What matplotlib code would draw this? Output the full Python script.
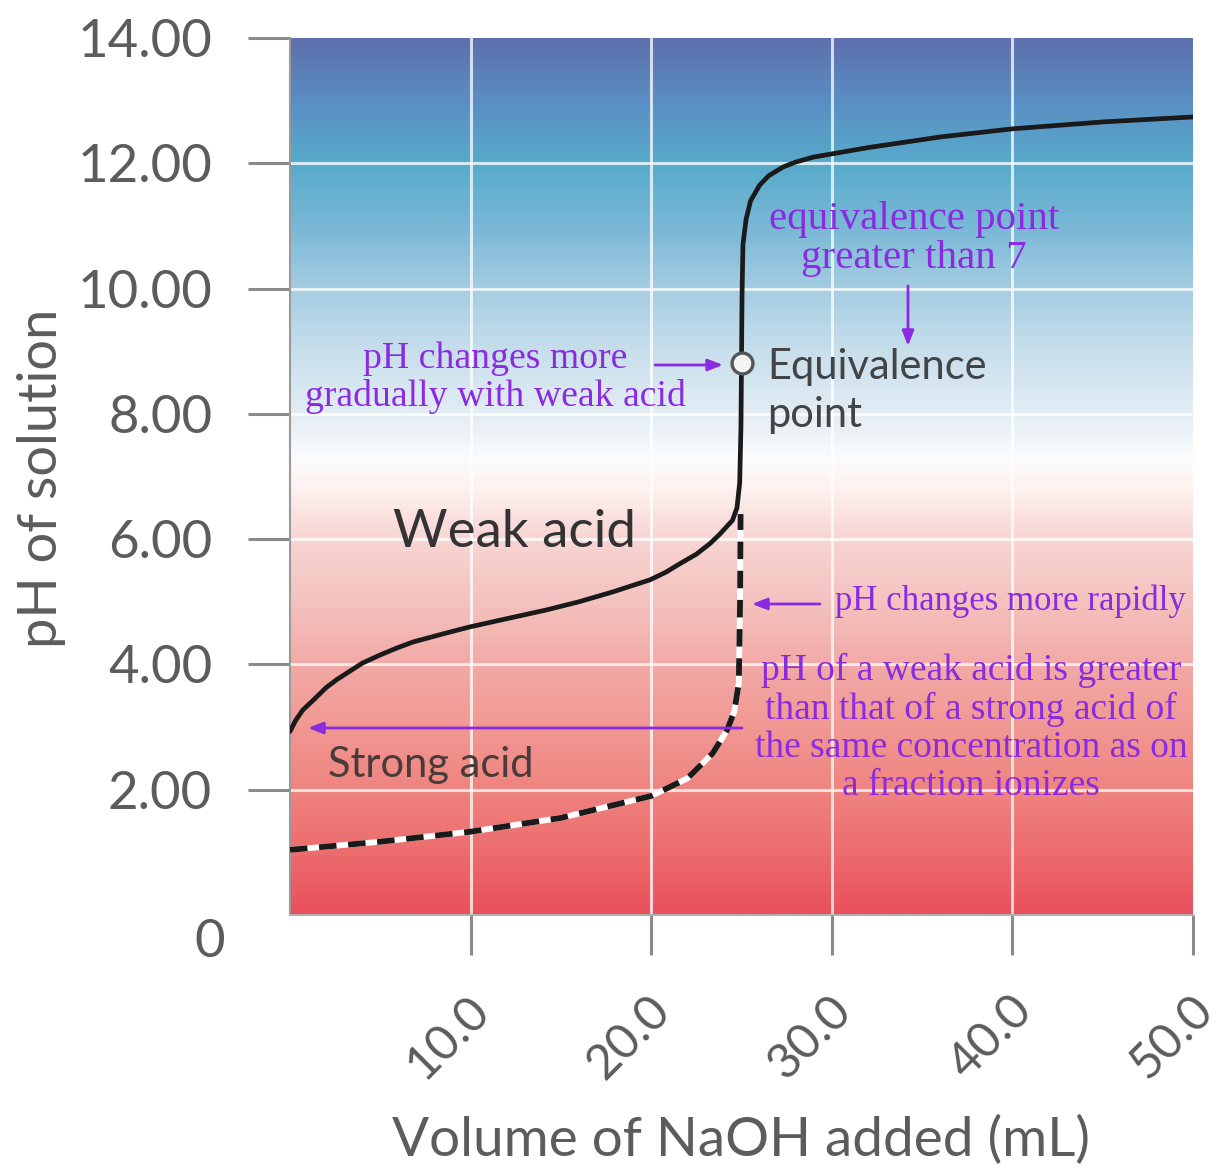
import numpy as np
import matplotlib
matplotlib.use("Agg")
import matplotlib.pyplot as plt
from matplotlib.colors import LinearSegmentedColormap
from matplotlib.transforms import ScaledTranslation

# ---------------- data ----------------
weak_x = [0, 0.3, 0.7, 1.29, 2, 2.6, 3.14, 4, 4.98, 5.9, 6.83, 8.5, 9.97, 12, 14.2, 16,
          17.9, 19.93, 20.8, 21.6, 22.5, 23.26, 23.8, 24.18, 24.5, 24.75, 24.9, 24.97,
          25.0, 25.03, 25.08, 25.25, 25.5, 26, 26.5, 27.3, 28, 29, 32, 36, 40, 45, 50]
weak_ph = [2.93, 3.1, 3.27, 3.43, 3.63, 3.76, 3.86, 4.02, 4.15, 4.26, 4.36, 4.49, 4.6,
           4.73, 4.87, 5.0, 5.16, 5.35, 5.47, 5.61, 5.76, 5.93, 6.08, 6.2, 6.3, 6.5, 6.9,
           7.8, 8.8, 9.9, 10.7, 11.1, 11.4, 11.65, 11.8, 11.94, 12.02, 12.1, 12.25, 12.42,
           12.55, 12.66, 12.74]

strong_x = [0, 5, 10, 15, 20, 22, 23.4, 24.2, 24.6, 24.85, 24.92, 24.95]
strong_ph = [1.04, 1.17, 1.33, 1.55, 1.9, 2.18, 2.58, 2.95, 3.25, 3.7, 5.0, 6.4]

equiv_x, equiv_ph = 25.0, 8.81

x_ticks = [10, 20, 30, 40, 50]
x_ticklabels = ["10.0", "20.0", "30.0", "40.0", "50.0"]
y_ticks = [0, 2, 4, 6, 8, 10, 12, 14]
y_ticklabels = ["0", "2.00", "4.00", "6.00", "8.00", "10.00", "12.00", "14.00"]

bg_stops = [(0.0, "#e9505b"), (1.0, "#ed6d6e"), (2.0, "#ef8480"), (3.0, "#f19893"),
            (4.0, "#f2aaa7"), (5.0, "#f4c2bf"), (6.0, "#f8d5d3"), (6.8, "#fdf1ef"),
            (7.3, "#fbfcfd"), (8.0, "#e3edf4"), (9.0, "#c8dfec"), (10.0, "#a5cde2"),
            (11.0, "#7ab8d6"), (12.0, "#58abcc"), (13.0, "#5a8fc4"), (14.0, "#5e70ad")]

PURPLE = "#8a2be2"
GRAY = "#5c5c5c"

# ---------------- figure ----------------
fig = plt.figure(figsize=(12.27, 11.68), dpi=100)
ax = fig.add_axes([290/1227, 1 - 915/1168, (1193-290)/1227, (915-38)/1168])
ax.set_xlim(0, 50)
ax.set_ylim(0, 14)

cmap = LinearSegmentedColormap.from_list("bg", [(v/14.0, c) for v, c in bg_stops])
grad = np.linspace(0, 14, 500).reshape(-1, 1)
ax.imshow(grad, extent=[0, 50, 0, 14], origin="lower", aspect="auto", cmap=cmap,
          vmin=0, vmax=14, zorder=0)

# grid
for gx in [10, 20, 30, 40]:
    ax.axvline(gx, color="white", lw=2.2, alpha=0.75, zorder=1)
for gy in [2, 4, 6, 8, 10, 12]:
    ax.axhline(gy, color="white", lw=2.2, alpha=0.75, zorder=1)

# strong acid (dashed black/white)
ax.plot(strong_x, strong_ph, color="white", lw=4.2, zorder=3, solid_capstyle="butt")
ax.plot(strong_x, strong_ph, color="#1a1a1a", lw=4.2, zorder=4,
        dashes=(3.0, 2.0), dash_capstyle="butt")

# weak acid
ax.plot(weak_x, weak_ph, color="#1a1a1a", lw=3.4, zorder=5, solid_capstyle="round",
        solid_joinstyle="round")

# equivalence point marker
ax.plot([equiv_x], [equiv_ph], marker="o", ms=15, mfc="#f4f4f4", mec="#555555",
        mew=2.4, zorder=6, linestyle="none")

# axes styling
for s in ["top", "right"]:
    ax.spines[s].set_visible(False)
ax.spines["left"].set_color("#9a9a9a")
ax.spines["left"].set_linewidth(1.5)
ax.spines["bottom"].set_color("#b0b0b0")
ax.spines["bottom"].set_linewidth(1.5)

lab_font = "Lato"
ax.set_yticks(y_ticks)
ax.set_yticklabels(y_ticklabels, fontsize=38, color=GRAY, family=lab_font)
ax.set_xticks(x_ticks)
ax.set_xticklabels(x_ticklabels, fontsize=35, color=GRAY, family=lab_font,
                   rotation=45, ha="center")
ax.tick_params(axis="y", length=30, width=2.2, color="#8a8a8a", pad=26)
ax.tick_params(axis="x", length=29, width=2.2, color="#8a8a8a", pad=23)
ax.yaxis.get_major_ticks()[0].tick1line.set_visible(False)

for lab in ax.get_xticklabels():
    lab.set_transform(lab.get_transform() + ScaledTranslation(-0.22, 0, fig.dpi_scale_trans))
ylabs = ax.get_yticklabels()
ylabs[0].set_transform(ylabs[0].get_transform() + ScaledTranslation(0.13, -0.23, fig.dpi_scale_trans))

fig.text(741/1227, 1 - 1140/1168, "Volume of NaOH added (mL)", fontsize=39.5, color=GRAY,
         family=lab_font, ha="center", va="center")
fig.text(42/1227, 1 - 478/1168, "pH of solution", fontsize=39, color=GRAY,
         family=lab_font, ha="center", va="center", rotation=90)

# in-plot labels
ax.text((393-290)/18.06, (915-533)/62.64, "Weak acid", fontsize=38, color="#333333",
        family=lab_font, ha="left", va="center", zorder=7)
ax.text((328-290)/18.06, (915-765)/62.64, "Strong acid", fontsize=30, color="#4a3b3b",
        family=lab_font, ha="left", va="center", zorder=7)
ax.text((767-290)/18.06, (915-391)/62.64, "Equivalence\npoint", fontsize=30,
        color="#444444", family=lab_font, ha="left", va="center", linespacing=1.3, zorder=7)

serif = "Liberation Serif"
ax.text((914-290)/18.06, (915-239)/62.64, "equivalence point\ngreater than 7",
        fontsize=29.5, color=PURPLE, family=serif, ha="center", va="center",
        linespacing=1.1, zorder=7)
ax.text((495-290)/18.06, (915-378)/62.64, "pH changes more\ngradually with weak acid",
        fontsize=27.2, color=PURPLE, family=serif, ha="center", va="center",
        linespacing=1.12, zorder=7)
ax.text((835-290)/18.06, (915-601)/62.64, "pH changes more rapidly", fontsize=25,
        color=PURPLE, family=serif, ha="left", va="center", zorder=7)
ax.text((971-290)/18.06, (915-728)/62.64,
        "pH of a weak acid is greater\nthan that of a strong acid of\nthe same concentration as on\na fraction ionizes",
        fontsize=27, color=PURPLE, family=serif, ha="center", va="center",
        linespacing=1.13, zorder=7)

def px2d(px, py):
    return ((px - 290) / 18.06, (915 - py) / 62.64)

arrow_kw = dict(arrowstyle="-|>,head_length=0.9,head_width=0.35", color=PURPLE, lw=2.0,
                shrinkA=0, shrinkB=0)
ax.annotate("", xy=px2d(908, 346), xytext=px2d(908, 286), arrowprops=arrow_kw, zorder=8)
ax.annotate("", xy=px2d(723, 365), xytext=px2d(655, 365), arrowprops=arrow_kw, zorder=8)
ax.annotate("", xy=px2d(752, 604), xytext=px2d(820, 604), arrowprops=arrow_kw, zorder=8)
ax.annotate("", xy=px2d(308, 728), xytext=px2d(742, 728), arrowprops=arrow_kw, zorder=8)

fig.savefig("out.png", dpi=100, facecolor="white")
